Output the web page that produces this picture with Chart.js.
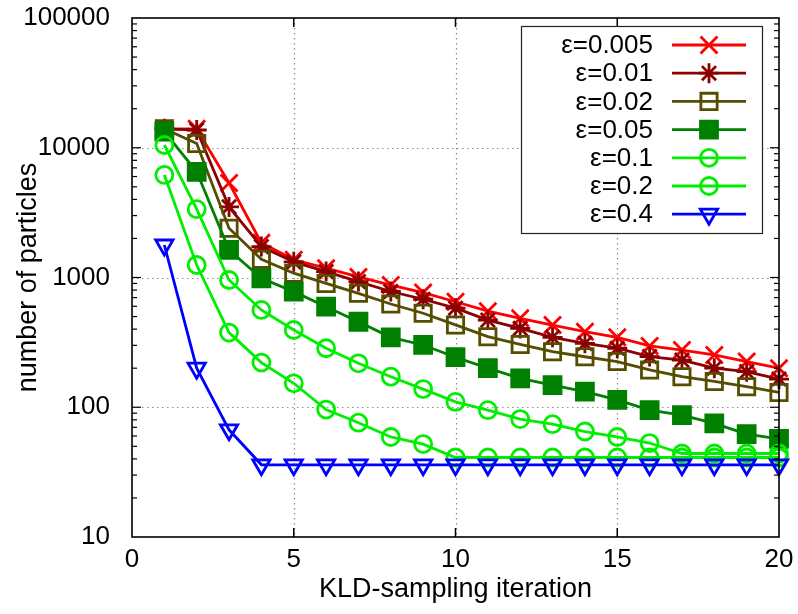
<!DOCTYPE html>
<html><head><meta charset="utf-8">
<script src="https://cdn.jsdelivr.net/npm/chart.js@4.4.1/dist/chart.umd.min.js"></script>
<style>html,body{margin:0;padding:0;background:#fff;}</style>
</head><body>
<canvas id="c" width="798" height="614"></canvas>
<script>
// ---- data ----
const iterations = [1,2,3,4,5,6,7,8,9,10,11,12,13,14,15,16,17,18,19,20];
const eps0005 = [14000,14000,5350,1850,1370,1180,1010,875,765,650,550,485,430,382,346,297,276,253,225,200];
const eps001  = [14000,13700,3500,1730,1320,1110,930,780,680,580,470,405,346,311,285,246,231,200,188,165];
const eps002  = [14000,10800,2400,1380,1080,900,755,625,530,431,350,305,268,245,225,194,172,158,144,130];
const eps005  = [13300,6530,1630,986,778,596,456,346,302,243,200,167,148,132,114,95,87,75,62,57];
const eps01   = [10500,3360,957,562,394,285,218,172,138,110,95,81,74,65,59,53,44,44,44,44];
const eps02   = [6170,1248,376,221,153,96,76,59,52,41,41,41,41,41,41,41,41,41,41,41];
const eps04   = [1780,200,67,36,36,36,36,36,36,36,36,36,36,36,36,36,36,36,36,36];
const seriesLabels = ['ε=0.005','ε=0.01','ε=0.02','ε=0.05','ε=0.1','ε=0.2','ε=0.4'];
const xTicks = [0,5,10,15,20];
const yTicks = [10,100,1000,10000,100000];
const xTitle = 'KLD-sampling iteration';
const yTitle = 'number of particles';

const seriesValues = [eps0005, eps001, eps002, eps005, eps01, eps02, eps04];
const FONT = '"Liberation Sans", Arial, Helvetica, sans-serif';
const styles = [
  {color:'#ff0000', pointStyle:'crossRot', radius:12, fill:false},
  {color:'#8b0000', pointStyle:'star', radius:10, fill:false},
  {color:'#554d00', pointStyle:'rect', radius:11.5, fill:false},
  {color:'#008000', pointStyle:'rect', radius:12, fill:true},
  {color:'#00ee00', pointStyle:'circle', radius:8.5, fill:false},
  {color:'#00ee00', pointStyle:'circle', radius:8.5, fill:false},
  {color:'#0000ff', pointStyle:'triangle', radius:10, rotation:180, fill:false}
];

const datasets = seriesValues.map((vals, i) => {
  const s = styles[i];
  return {
    label: seriesLabels[i],
    data: iterations.map((x, k) => ({x: x, y: vals[k]})),
    borderColor: s.color,
    backgroundColor: s.fill ? s.color : 'rgba(0,0,0,0)',
    pointBorderColor: s.color,
    pointBackgroundColor: s.fill ? s.color : 'rgba(0,0,0,0)',
    borderWidth: 2.8,
    pointBorderWidth: 2.8,
    pointStyle: s.pointStyle,
    pointRadius: s.radius,
    pointRotation: s.rotation || 0,
    pointHoverRadius: s.radius,
    tension: 0,
    fill: false,
    clip: false,
    order: -i
  };
});

function line(ctx, x1, y1, x2, y2) {
  ctx.beginPath(); ctx.moveTo(x1, y1); ctx.lineTo(x2, y2); ctx.stroke();
}

const framePlugin = {
  id: 'frame',
  beforeDatasetsDraw(chart) {
    const {ctx, chartArea: a, scales: {x, y}} = chart;
    ctx.save();
    ctx.strokeStyle = '#8c8c8c';
    ctx.lineWidth = 1.2;
    ctx.setLineDash([1.5, 3.5]);
    xTicks.slice(1, -1).forEach(v => {
      const px = Math.round(x.getPixelForValue(v)) + 0.5;
      line(ctx, px, a.top, px, a.bottom);
    });
    yTicks.slice(1, -1).forEach(v => {
      const py = Math.round(y.getPixelForValue(v)) + 0.5;
      line(ctx, a.left, py, a.right, py);
    });
    ctx.restore();
  },
  afterDatasetsDraw(chart) {
    const {ctx, chartArea: a, scales: {x, y}} = chart;
    ctx.save();
    ctx.strokeStyle = '#000';
    ctx.lineWidth = 1.5;
    ctx.setLineDash([]);
    // inward ticks
    xTicks.slice(1, -1).forEach(v => {
      const px = x.getPixelForValue(v);
      line(ctx, px, a.bottom, px, a.bottom - 9);
      line(ctx, px, a.top, px, a.top + 9);
    });
    ctx.lineWidth = 1.2;
    for (let d = 0; d < yTicks.length; d++) {
      const base = yTicks[d];
      const py = y.getPixelForValue(base);
      if (d > 0 && d < yTicks.length - 1) {
        line(ctx, a.left, py, a.left + 9, py);
        line(ctx, a.right, py, a.right - 9, py);
      }
      if (d < yTicks.length - 1) {
        for (let m = 2; m <= 9; m++) {
          const pm = y.getPixelForValue(base * m);
          line(ctx, a.left, pm, a.left + 5, pm);
          line(ctx, a.right, pm, a.right - 5, pm);
        }
      }
    }
    // frame
    ctx.lineWidth = 1.6;
    ctx.strokeRect(a.left, a.top, a.right - a.left, a.bottom - a.top);

    // legend
    const bx = 521, by = 26, bw = 241, bh = 207;
    ctx.fillStyle = '#fff';
    ctx.fillRect(bx, by, bw, bh);
    ctx.lineWidth = 1.2;
    ctx.strokeStyle = '#222';
    ctx.strokeRect(bx + 0.5, by + 0.5, bw, bh);
    ctx.font = '26px ' + FONT;
    ctx.textAlign = 'right';
    ctx.textBaseline = 'middle';
    chart.data.datasets.forEach((ds, i) => {
      const ry = 45 + i * 28.2;
      ctx.fillStyle = '#000';
      ctx.fillText(ds.label, 653, ry + 1);
      ctx.strokeStyle = ds.borderColor;
      ctx.lineWidth = ds.borderWidth;
      line(ctx, 672, ry, 746, ry);
      ctx.fillStyle = ds.pointBackgroundColor;
      ctx.strokeStyle = ds.pointBorderColor;
      ctx.lineWidth = ds.pointBorderWidth;
      Chart.helpers.drawPoint(ctx, {
        pointStyle: ds.pointStyle,
        radius: ds.pointRadius,
        rotation: ds.pointRotation,
        borderWidth: ds.pointBorderWidth
      }, 709, ry);
    });
    ctx.restore();
  }
};

new Chart(document.getElementById('c'), {
  type: 'line',
  data: {datasets: datasets},
  plugins: [framePlugin],
  options: {
    responsive: false,
    animation: false,
    devicePixelRatio: 1,
    layout: {padding: {top: 18, right: 19, left: 0, bottom: 0}},
    plugins: {legend: {display: false}, tooltip: {enabled: false}},
    scales: {
      x: {
        type: 'linear', min: 0, max: 20,
        afterBuildTicks: s => { s.ticks = xTicks.map(v => ({value: v})); },
        afterFit: s => { s.height = 77; s.paddingLeft = 0; s.paddingRight = 0; },
        grid: {display: false, drawTicks: false},
        border: {display: false},
        ticks: {padding: 7, color: '#000', maxRotation: 0, autoSkip: false,
                font: {family: FONT, size: 26}},
        title: {display: true, text: xTitle, color: '#000',
                font: {family: FONT, size: 27}, padding: {top: 0, bottom: 8}}
      },
      y: {
        type: 'logarithmic', min: 10, max: 100000,
        afterBuildTicks: s => { s.ticks = yTicks.map(v => ({value: v})); },
        afterFit: s => { s.width = 132; s.paddingTop = 0; s.paddingBottom = 0; },
        grid: {display: false, drawTicks: false},
        border: {display: false},
        ticks: {padding: 22, color: '#000', autoSkip: false,
                font: {family: FONT, size: 26},
                callback: v => String(Math.round(v))},
        title: {display: true, text: yTitle, color: '#000',
                font: {family: FONT, size: 27}, padding: {top: 12, bottom: 0}}
      }
    }
  }
});
</script>
</body></html>
